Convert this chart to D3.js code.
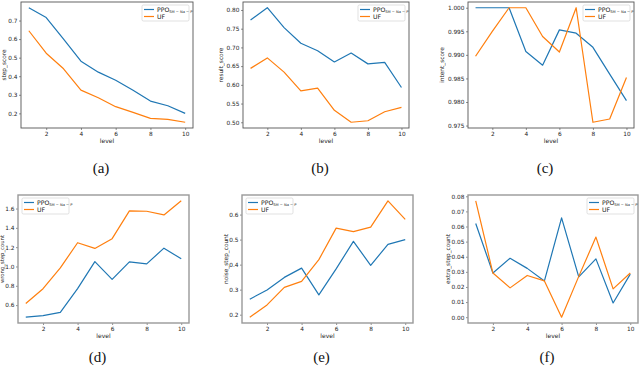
<!DOCTYPE html>
<html>
<head>
<meta charset="utf-8">
<script src="https://cdn.jsdelivr.net/npm/d3@7"></script>
<style>
  body { margin: 0; background: #fff; }
  svg { display: block; }
  .tick text { font-family: "DejaVu Sans", sans-serif; }
</style>
</head>
<body>
<svg id="vis" width="640" height="368"></svg>
<script>
const WIDTH = 640;
const HEIGHT = 368;

// levels on the x axis
const levels = [1, 2, 3, 4, 5, 6, 7, 8, 9, 10];
const xTicks = [2, 4, 6, 8, 10];
const seriesNames = ["PPO", "UF"];
const subscript = "SM − Na − P";
const panelLetters = ["(a)", "(b)", "(c)", "(d)", "(e)", "(f)"];
const yLabels = ["step_score", "result_score", "intent_score",
                 "wrong_step_count", "noise_step_count", "extra_step_count"];

// values
const stepPPO   = [0.769, 0.716, 0.600, 0.481, 0.422, 0.378, 0.325, 0.266, 0.241, 0.200];
const stepUF    = [0.645, 0.524, 0.440, 0.325, 0.284, 0.236, 0.205, 0.173, 0.168, 0.152];
const resultPPO = [0.773, 0.806, 0.753, 0.711, 0.691, 0.661, 0.685, 0.656, 0.660, 0.593];
const resultUF  = [0.644, 0.672, 0.634, 0.584, 0.591, 0.532, 0.500, 0.504, 0.528, 0.540];
const intentPPO = [1.000, 1.000, 1.000, 0.9907, 0.9878, 0.9953, 0.9946, 0.9916, 0.9859, 0.9803];
const intentUF  = [0.9897, 0.9950, 1.000, 1.000, 0.9939, 0.9906, 1.000, 0.9757, 0.9764, 0.9852];
const wrongPPO  = [0.475, 0.492, 0.524, 0.770, 1.051, 0.867, 1.048, 1.027, 1.190, 1.079];
const wrongUF   = [0.617, 0.770, 0.985, 1.246, 1.187, 1.288, 1.576, 1.572, 1.534, 1.680];
const noisePPO  = [0.262, 0.299, 0.349, 0.386, 0.279, 0.383, 0.493, 0.397, 0.481, 0.500];
const noiseUF   = [0.190, 0.239, 0.309, 0.333, 0.420, 0.546, 0.532, 0.550, 0.655, 0.581];
const extraPPO  = [0.0620, 0.0292, 0.0390, 0.0323, 0.0240, 0.0657, 0.0267, 0.0386, 0.0094, 0.0285];
const extraUF   = [0.0770, 0.0292, 0.0194, 0.0276, 0.0240, 0.0000, 0.0270, 0.0530, 0.0187, 0.0292];

// y tick values for each panel
const stepTicks   = [0.2, 0.3, 0.4, 0.5, 0.6, 0.7];
const resultTicks = [0.50, 0.55, 0.60, 0.65, 0.70, 0.75, 0.80];
const intentTicks = [0.975, 0.980, 0.985, 0.990, 0.995, 1.000];
const wrongTicks  = [0.6, 0.8, 1.0, 1.2, 1.4, 1.6];
const noiseTicks  = [0.2, 0.3, 0.4, 0.5, 0.6];
const extraTicks  = [0.00, 0.01, 0.02, 0.03, 0.04, 0.05, 0.06, 0.07, 0.08];

const COLORS = ["#1f77b4", "#ff7f0e"];

// frame boxes of the six panels (left, top, right, bottom); labelX = baseline of y title
const panels = [
  {box: [21, 2, 193, 128],   ppo: stepPPO,   uf: stepUF,   ticks: stepTicks,   fmt: ".1f", legend: "right", labelX: 6,   labelSize: 5.8},
  {box: [243, 2, 409, 128],  ppo: resultPPO, uf: resultUF, ticks: resultTicks, fmt: ".2f", legend: "right", labelX: 223, labelSize: 5.8},
  {box: [468, 2, 634, 128],  ppo: intentPPO, uf: intentUF, ticks: intentTicks, fmt: ".3f", legend: "right", labelX: 444, labelSize: 5.8},
  {box: [18, 195, 189, 323], ppo: wrongPPO,  uf: wrongUF,  ticks: wrongTicks,  fmt: ".1f", legend: "left",  labelX: 4.4, labelSize: 5.3},
  {box: [242, 195, 413, 323], ppo: noisePPO, uf: noiseUF,  ticks: noiseTicks,  fmt: ".1f", legend: "left",  labelX: 228, labelSize: 5.8},
  {box: [468, 195, 638, 323], ppo: extraPPO, uf: extraUF,  ticks: extraTicks,  fmt: ".2f", legend: "right", labelX: 450, labelSize: 5.8}
];

const svg = d3.select("#vis");

panels.forEach((p, i) => {
  const [x0, y0, x1, y1] = p.box;
  const g = svg.append("g");

  // matplotlib style 5% padding
  const X_SCALE = d3.scaleLinear()
                    .domain([0.55, 10.45])
                    .range([x0, x1]);
  const all = p.ppo.concat(p.uf);
  const lo = d3.min(all), hi = d3.max(all);
  const pad = (hi - lo) * 0.05;
  const Y_SCALE = d3.scaleLinear()
                    .domain([lo - pad, hi + pad])
                    .range([y1, y0]);

  // lines
  const line = d3.line()
                 .x((d, j) => X_SCALE(levels[j]))
                 .y((d) => Y_SCALE(d));
  [p.ppo, p.uf].forEach((vals, k) => {
    g.append("path")
      .datum(vals)
      .attr("d", line)
      .attr("fill", "none")
      .attr("stroke", COLORS[k])
      .attr("stroke-width", 1.2)
      .attr("stroke-linejoin", "round");
  });

  // axes
  const xAxis = g.append("g")
    .attr("transform", "translate(0," + y1 + ")")
    .call(d3.axisBottom(X_SCALE).tickValues(xTicks).tickSize(2).tickPadding(2));
  const yAxis = g.append("g")
    .attr("transform", "translate(" + x0 + ",0)")
    .call(d3.axisLeft(Y_SCALE).tickValues(p.ticks).tickSize(2).tickPadding(1.5)
            .tickFormat(d3.format(p.fmt)));
  [xAxis, yAxis].forEach((a) => {
    a.select(".domain").remove();
    a.selectAll(".tick line").attr("stroke", "#444").attr("stroke-width", 0.6);
    a.selectAll(".tick text").attr("font-size", "5.8px").attr("fill", "#222");
  });

  // frame
  g.append("rect")
    .attr("x", x0).attr("y", y0)
    .attr("width", x1 - x0).attr("height", y1 - y0)
    .attr("fill", "none")
    .attr("stroke", i < 3 ? "#555" : "#999")
    .attr("stroke-width", i < 3 ? 0.9 : 1.4);

  // axis titles
  g.append("text")
    .attr("x", (x0 + x1) / 2)
    .attr("y", y1 + 14.5)
    .attr("text-anchor", "middle")
    .attr("font-family", "DejaVu Sans, sans-serif")
    .attr("font-size", "6px")
    .attr("fill", "#222")
    .text("level");
  g.append("text")
    .attr("transform", "translate(" + p.labelX + "," + ((y0 + y1) / 2) + ") rotate(-90)")
    .attr("text-anchor", "middle")
    .attr("font-family", "DejaVu Sans, sans-serif")
    .attr("font-size", p.labelSize + "px")
    .attr("fill", "#222")
    .text(yLabels[i]);

  // legend
  const lw = 47, lh = 16;
  const lx = p.legend === "right" ? x1 - lw - 4 : x0 + 4;
  const ly = y0 + 3;
  const leg = g.append("g").attr("transform", "translate(" + lx + "," + ly + ")");
  leg.append("rect")
    .attr("width", lw).attr("height", lh)
    .attr("rx", 1.5)
    .attr("fill", "#fff")
    .attr("stroke", "#ccc")
    .attr("stroke-width", 0.6);
  seriesNames.forEach((name, k) => {
    const yy = 4.5 + k * 7;
    leg.append("line")
      .attr("x1", 2).attr("x2", 12)
      .attr("y1", yy).attr("y2", yy)
      .attr("stroke", COLORS[k])
      .attr("stroke-width", 1.2);
    const t = leg.append("text")
      .attr("x", 15).attr("y", yy + 2.2)
      .attr("font-family", "DejaVu Sans, sans-serif")
      .attr("font-size", "6.2px")
      .attr("fill", "#222")
      .text(name);
    if (k === 0) {
      t.append("tspan")
        .attr("font-size", "3.6px")
        .attr("dy", 1)
        .text(subscript);
    }
  });

  // panel letter
  svg.append("text")
    .attr("x", (x0 + x1) / 2 - 6)
    .attr("y", i < 3 ? 173 : 362)
    .attr("text-anchor", "middle")
    .attr("font-family", "Liberation Serif, serif")
    .attr("font-size", "15px")
    .attr("fill", "#111")
    .text(panelLetters[i]);
});
</script>
</body>
</html>
